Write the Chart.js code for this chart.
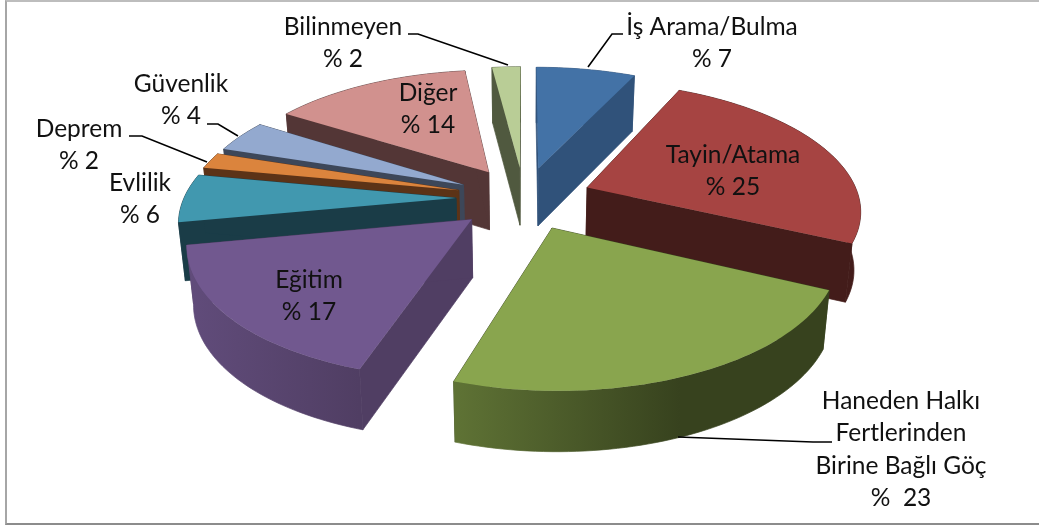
<!DOCTYPE html>
<html>
<head>
<meta charset="utf-8">
<script src="https://cdn.jsdelivr.net/npm/chart.js@4"></script>
<style>
  html, body { margin: 0; padding: 0; background: #fff; }
  #wrap { position: absolute; left: 5px; top: 0; width: 1034px; height: 521px; border-left: 2px solid #a6a6a6; border-top: 2px solid #bdbdbd; border-bottom: 2px solid #8c8c8c; }
  canvas { position: absolute; left: 0; top: 0; }
</style>
</head>
<body>
<canvas id="grafik" width="1039" height="527"></canvas>
<div id="wrap"></div>
<script>
const categories = [
  ["İş Arama/Bulma"],
  ["Tayin/Atama"],
  ["Haneden Halkı", "Fertlerinden", "Birine Bağlı Göç"],
  ["Eğitim"],
  ["Evlilik"],
  ["Deprem"],
  ["Güvenlik"],
  ["Diğer"],
  ["Bilinmeyen"]
];
const values = [7, 25, 23, 17, 6, 2, 4, 14, 2];

const topColors = ["#4372a6", "#a64442", "#89a54e", "#71588f", "#4198af", "#db843d", "#93a9cf", "#d1918e", "#b9cd96"];
const sideLight = ["#30527a", "#431c1a", "#5f7335", "#614c7b", "#1a3c47", "#5c3317", "#3d4759", "#533636", "#50593f"];
const sideDark  = ["#30527a", "#431c1a", "#37421e", "#503e63", "#1a3c47", "#5c3317", "#3d4759", "#533636", "#50593f"];

// label centre x and first line y, per slice
const labelX = [712, 733, 901, 309, 140, 79, 181, 428, 343];
const labelY = [27, 155, 401, 280, 183, 129, 84, 93, 27];
const leaders = [
  [[623, 34], [612, 34], [588, 67]],
  null,
  [[832, 442], [813, 442], [678, 437]],
  null,
  null,
  [[129, 136], [142, 136], [207, 162]],
  [[207, 124], [218, 124], [238, 136]],
  null,
  [[408, 34], [418, 34], [508, 65]]
];

// 3D view: pixels per radius, perspective and extrusion
const SCALE_X = 272, SCALE_Y = 126, PERSP = 0.16, DEPTH = 58, BOTTOM_SHRINK = 0.98;

function project(arc, theta, rr, bottom) {
  const mid = (arc.startAngle + arc.endAngle) / 2;
  const off = arc.options.offset / arc.outerRadius;
  const u = off * Math.cos(mid) + rr * Math.cos(theta);
  const v = off * Math.sin(mid) + rr * Math.sin(theta);
  const w = 1 - PERSP * v;
  const s = bottom ? BOTTOM_SHRINK : 1;
  return [
    arc.x + u * SCALE_X * s / w,
    arc.y + v * SCALE_Y * s / w + (bottom ? DEPTH / Math.sqrt(w) : 0)
  ];
}

function rimPoints(arc, bottom) {
  const pts = [];
  const steps = Math.max(4, Math.ceil((arc.endAngle - arc.startAngle) * 40));
  for (let i = 0; i <= steps; i++) {
    const t = arc.startAngle + (arc.endAngle - arc.startAngle) * i / steps;
    pts.push(project(arc, t, 1, bottom));
  }
  return pts;
}

function fillPoly(ctx, pts, fill, seam) {
  ctx.beginPath();
  pts.forEach((p, i) => i ? ctx.lineTo(p[0], p[1]) : ctx.moveTo(p[0], p[1]));
  ctx.closePath();
  ctx.fillStyle = fill;
  ctx.fill();
  if (seam) {
    ctx.strokeStyle = fill;
    ctx.lineWidth = 0.7;
    ctx.stroke();
  }
}

function drawSlice(ctx, arc, i) {
  const top = rimPoints(arc, false);
  const bot = rimPoints(arc, true);
  const apexTop = project(arc, 0, 0, false);
  const apexBot = project(arc, 0, 0, true);
  // cut faces
  fillPoly(ctx, [apexTop, top[0], bot[0], apexBot], sideDark[i], true);
  fillPoly(ctx, [apexTop, top[top.length - 1], bot[bot.length - 1], apexBot], sideDark[i], true);
  // outer rim
  const xs = top.map(p => p[0]);
  const grad = ctx.createLinearGradient(Math.min(...xs), 0, Math.max(...xs), 0);
  grad.addColorStop(i === 3 ? 1 : 0, sideDark[i]);
  grad.addColorStop(i === 3 ? 0 : 1, sideLight[i]);
  let rimFill = grad;
  if (i === 2) {
    const g = ctx.createLinearGradient(453, 0, 680, 0);
    g.addColorStop(0, sideLight[i]);
    g.addColorStop(1, sideDark[i]);
    rimFill = g;
  }
  fillPoly(ctx, top.concat(bot.slice().reverse()), rimFill, true);
  // top surface
  fillPoly(ctx, [apexTop].concat(top), arc.options.backgroundColor, false);
}

class Pie3D extends Chart.PieController {
  draw() {
    const ctx = this.chart.ctx;
    const arcs = this._cachedMeta.data.map((arc, i) => ({ arc, i }));
    arcs.sort((a, b) => Math.sin((a.arc.startAngle + a.arc.endAngle) / 2) - Math.sin((b.arc.startAngle + b.arc.endAngle) / 2));
    arcs.forEach(o => drawSlice(ctx, o.arc, o.i));
  }
}
Pie3D.id = "pie3d";
Pie3D.defaults = Chart.PieController.defaults;
Pie3D.overrides = Chart.PieController.overrides;
Chart.register(Pie3D);

const etiketler = {
  id: "etiketler",
  afterDraw(chart) {
    const ctx = chart.ctx;
    ctx.save();
    ctx.strokeStyle = "#000";
    ctx.lineWidth = 1.6;
    leaders.forEach(l => {
      if (!l) return;
      ctx.beginPath();
      l.forEach((p, i) => i ? ctx.lineTo(p[0], p[1]) : ctx.moveTo(p[0], p[1]));
      ctx.stroke();
    });
    ctx.font = "24.5px Lato";
    ctx.fillStyle = "#111";
    ctx.textAlign = "center";
    ctx.textBaseline = "middle";
    categories.forEach((lines, i) => {
      const pct = i === 2 ? "%  " + values[i] : "% " + values[i];
      lines.concat([pct]).forEach((t, k) => {
        ctx.fillText(t, labelX[i], labelY[i] + k * 32.5);
      });
    });
    ctx.restore();
  }
};

new Chart(document.getElementById("grafik"), {
  type: "pie3d",
  data: {
    labels: categories.map(c => c.join(" ")),
    datasets: [{
      data: values,
      backgroundColor: topColors,
      borderWidth: 0,
      offset: 40
    }]
  },
  options: {
    responsive: false,
    animation: false,
    events: [],
    radius: 160,
    rotation: 0,
    layout: { padding: { left: 9, bottom: 131 } },
    plugins: { legend: { display: false }, tooltip: { enabled: false } }
  },
  plugins: [etiketler]
});
</script>
</body>
</html>
